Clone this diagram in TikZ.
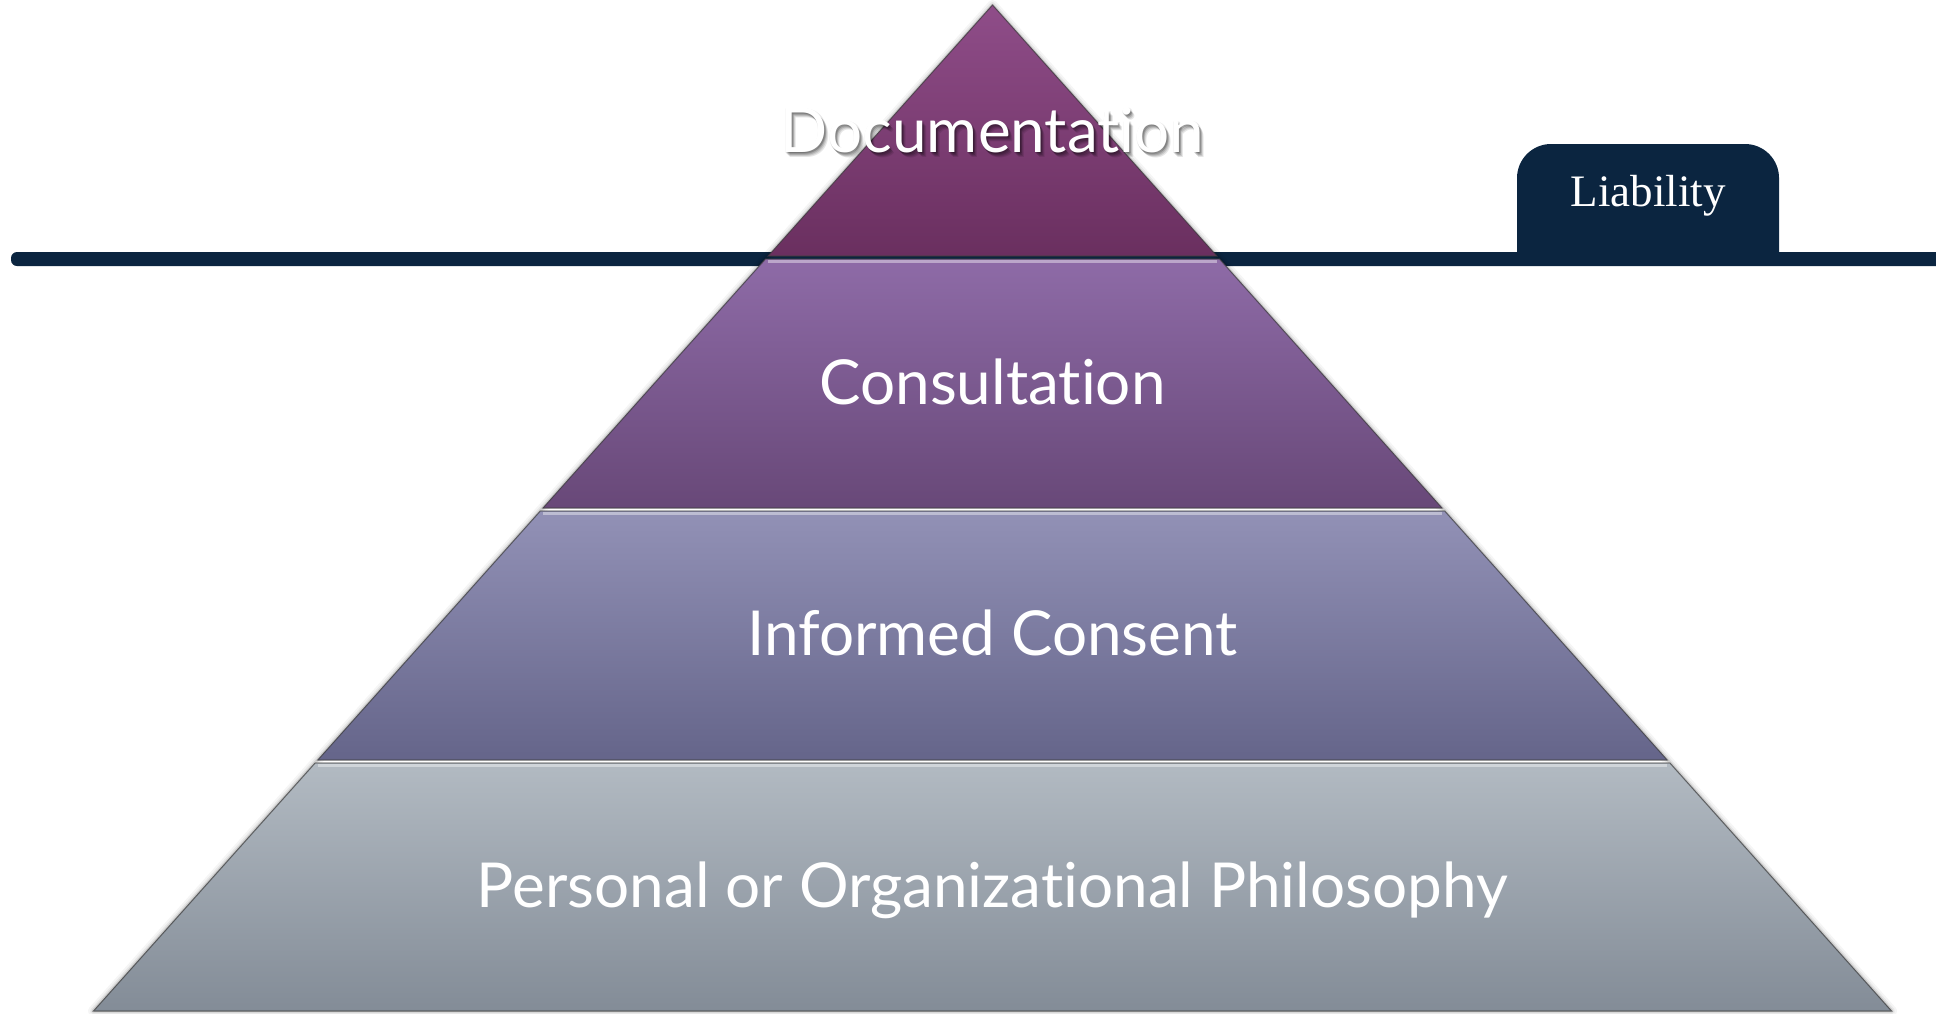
\documentclass[tikz,border=0pt]{standalone}
\usepackage{fontspec}
\newfontfamily\labelfont[Ligatures={NoCommon}]{Lato}
\newfontfamily\tabfont{Liberation Serif}
\definecolor{barcol}{HTML}{0B2540}
\definecolor{aTop}{HTML}{8F4D89}\definecolor{aBot}{HTML}{6A2F5F}
\definecolor{bTop}{HTML}{8E6BA7}\definecolor{bBot}{HTML}{684878}
\definecolor{cTop}{HTML}{9291B6}\definecolor{cBot}{HTML}{65658A}
\definecolor{dTop}{HTML}{B2BAC2}\definecolor{dBot}{HTML}{838C97}
\tikzset{
  layertext/.style={text=white, anchor=base, inner sep=0pt, font=\labelfont\fontsize{31}{37}\selectfont},
  layeredge/.style={draw=black!75, draw opacity=0.6, line width=0.6pt},
  highlight/.style={draw=white, draw opacity=0.4, line width=1.2pt},
}
\begin{document}
\begin{tikzpicture}[x=0.5pt,y=-0.5pt]
\useasboundingbox (0,0) rectangle (1936,1013);
% horizon bar
\fill[barcol, rounded corners=3] (11,252) rectangle (1950,266);
\fill[barcol] (1517,262) [rounded corners=17] -- (1517,144) -- (1779,144) [sharp corners] -- (1779,262) -- cycle;
\node[text=white, anchor=base, inner sep=0pt, font=\tabfont\fontsize{22.5}{27}\selectfont] (liab) at (1648,206) {Liability};
% soft shadow
\foreach \w/\o in {10/0.04,6/0.06,3/0.10}{
  \draw[black, line width=\w*0.5pt, opacity=\o, line join=round] (992.5,5) -- (1892,1011) -- (93,1011) -- cycle;
}
% layers
\fill[top color=aTop, bottom color=aBot] (992.5,5) -- (1216.8,256) -- (768.2,256) -- cycle;
\draw[layeredge] (992.5,5) -- (1216.8,256) -- (768.2,256) -- cycle;
\fill[top color=bTop, bottom color=bBot] (765.5,259) -- (1219.5,259) -- (1442,508) -- (543,508) -- cycle;
\draw[layeredge] (765.5,259) -- (1219.5,259) -- (1442,508) -- (543,508) -- cycle;
\draw[highlight] (768,261.5) -- (1217,261.5);
\fill[top color=cTop, bottom color=cBot] (540.3,511) -- (1444.7,511) -- (1667.2,760) -- (317.8,760) -- cycle;
\draw[layeredge] (540.3,511) -- (1444.7,511) -- (1667.2,760) -- (317.8,760) -- cycle;
\draw[highlight] (543,513.5) -- (1442,513.5);
\fill[top color=dTop, bottom color=dBot] (315.1,763) -- (1669.9,763) -- (1891.5,1011) -- (93.5,1011) -- cycle;
\draw[layeredge] (315.1,763) -- (1669.9,763) -- (1891.5,1011) -- (93.5,1011) -- cycle;
\draw[highlight] (318,765.5) -- (1667,765.5);
% texts (soft shadow behind Documentation)
\foreach \dx/\dy/\o in {4/5/0.10,3/4/0.12,2/3/0.15,1/2/0.15,0/1/0.1,2/1/0.1}{
  \node[layertext, text=black, text opacity=\o] at (992.5+\dx,152+\dy) {Documentation};
}
\node[layertext] (doc) at (992.5,152) {Documentation};
\node[layertext] (cons) at (992.5,404) {Consultation};
\node[layertext] (inf) at (992.5,655) {Informed Consent};
\node[layertext] (phil) at (992.5,907) {Personal or Organizational Philosophy};
\end{tikzpicture}
\end{document}
